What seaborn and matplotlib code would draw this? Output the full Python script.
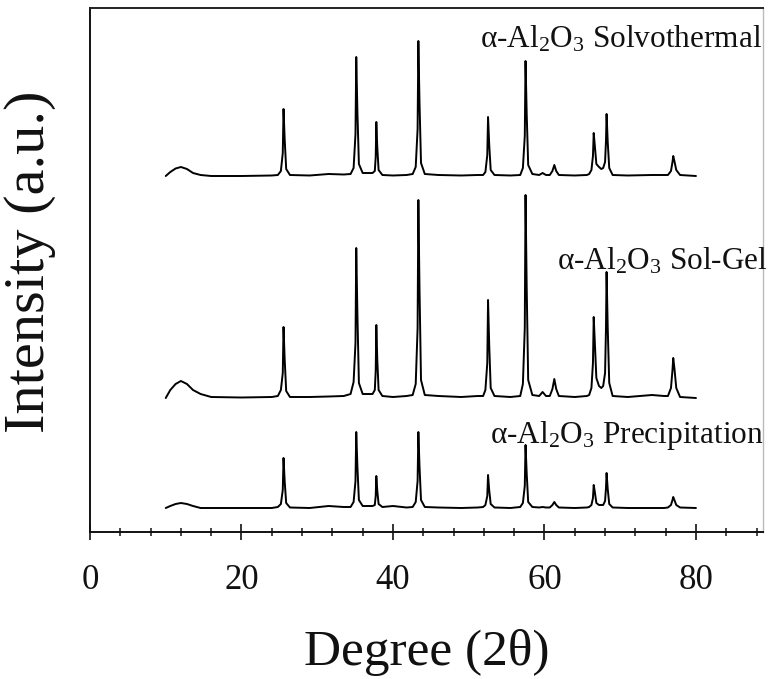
"""XRD patterns of alpha-Al2O3 powders made by three routes."""

import matplotlib

matplotlib.use("Agg")
import matplotlib.pyplot as plt
from matplotlib.ticker import MultipleLocator
import pandas as pd
import seaborn as sns


# 2-theta sampling points (degrees)
two_theta = [
    10.0, 10.6, 11.3, 12.0, 12.8, 13.6, 14.6, 16.0, 20.0, 24.0,
    24.8, 25.2, 25.45, 25.55, 25.7, 25.9, 26.4,
    29.0, 31.5, 33.5,
    34.4, 34.8, 35.05, 35.15, 35.3, 35.5, 36.0,
    36.8,
    37.3, 37.6, 37.72, 37.8, 37.92, 38.1, 38.6,
    40.0, 41.8,
    42.6, 43.0, 43.25, 43.35, 43.5, 43.7, 44.2,
    46.0, 49.0, 51.2,
    51.9, 52.2, 52.45, 52.55, 52.7, 52.9, 53.4,
    55.5,
    56.8, 57.15, 57.4, 57.5, 57.65, 57.85, 58.4,
    59.3, 59.75, 60.2,
    60.7, 61.05, 61.3, 61.55, 61.9,
    64.0, 65.6,
    65.9, 66.2, 66.4, 66.5, 66.65, 66.85, 67.2,
    67.5,
    67.75, 68.0, 68.12, 68.2, 68.35, 68.55, 69.0,
    71.0, 74.2, 75.8,
    76.3, 76.7, 76.9, 77.0, 77.15, 77.4, 77.9,
    80.0,
]

# intensities above each pattern's own baseline (a.u.)
solvothermal = [
    0, 4, 7.5, 9, 7, 3, 1, 0, 0, 0.5,
    1, 5, 23, 67, 37, 7, 1,
    0.5, 2, 1.5,
    2, 8, 42, 119, 65, 12, 3,
    3,
    3, 5, 19, 54, 30, 6, 1,
    0.5, 1,
    2, 9, 47, 135, 74, 13, 2,
    1, 0.5, 1,
    1, 4, 21, 59, 32, 6, 1,
    0.5,
    1, 8, 40, 115, 63, 11, 2,
    1, 3, 1,
    1, 5, 11, 5, 1,
    0.5, 1,
    2, 6, 20, 43, 30, 12, 9,
    7,
    8, 14, 35, 62, 34, 8, 1,
    0.5, 1, 1,
    1, 5, 14, 20, 15, 6, 1,
    0,
]

sol_gel = [
    0, 8, 14, 17, 14, 8, 4, 1, 0.5, 1,
    2, 8, 25, 71, 39, 7, 1,
    1, 1.5, 2,
    4, 16, 55, 150, 85, 15, 4,
    4,
    4, 8, 27, 73, 40, 8, 2,
    1, 2,
    3, 14, 70, 198, 110, 18, 3,
    2, 1, 2,
    2, 8, 35, 98, 54, 10, 2,
    1,
    2, 14, 70, 203, 112, 18, 3,
    2, 6, 2,
    2, 9, 19, 9, 2,
    1, 2,
    3, 10, 35, 81, 55, 20, 12,
    10,
    12, 25, 70, 126, 70, 15, 2,
    1, 3, 2,
    2, 10, 28, 40, 30, 10, 1,
    0,
]

precipitation = [
    0, 2, 4, 5, 4, 2, 0, 0, 0, 0,
    1, 4, 18, 50, 27, 5, 0.5,
    0, 2, 1,
    1, 6, 27, 76, 42, 8, 2,
    2,
    2, 3, 12, 32, 18, 4, 1,
    2, 0.5,
    1, 6, 27, 76, 42, 8, 1,
    0.5, 0, 0.5,
    1, 3, 12, 33, 18, 4, 0.5,
    0,
    1, 5, 22, 63, 35, 6, 1,
    0.5, 1, 0.5,
    0.5, 3, 6, 3, 0.5,
    0, 0.5,
    1, 3, 10, 23, 16, 5, 3,
    3,
    3, 7, 20, 35, 19, 4, 0.5,
    0, 0, 0,
    0.5, 3, 8, 11, 8, 3, 0.5,
    0,
]

sample_labels = [
    r"$\alpha$-Al$_2$O$_3$ Solvothermal",
    r"$\alpha$-Al$_2$O$_3$ Sol-Gel",
    r"$\alpha$-Al$_2$O$_3$ Precipitation",
]
x_ticks = [0, 20, 40, 60, 80]

# layout: vertical stacking offset of each pattern and label anchor (data units)
OFFSETS = [356, 134, 24]
LABEL_POS = [(51.5, 485), (61.65, 262), (52.8, 89)]


def main() -> None:
    sns.set_style("white")
    plt.rcParams["font.family"] = ["Liberation Serif", "DejaVu Serif"]
    plt.rcParams["mathtext.fontset"] = "custom"
    plt.rcParams["mathtext.rm"] = "Liberation Serif"
    plt.rcParams["mathtext.it"] = "Liberation Serif:italic"
    plt.rcParams["mathtext.default"] = "regular"

    series = [solvothermal, sol_gel, precipitation]
    for values in series:
        assert len(values) == len(two_theta)

    fig = plt.figure(figsize=(7.68, 6.79), dpi=100)
    ax = fig.add_axes([90 / 768, 1 - 532 / 679, 673 / 768, 524 / 679])

    for values, offset in zip(series, OFFSETS):
        df = pd.DataFrame({"two_theta": two_theta, "intensity": values})
        df["intensity"] = df["intensity"] + offset
        sns.lineplot(
            data=df, x="two_theta", y="intensity", ax=ax,
            color="black", linewidth=1.4, estimator=None, sort=False,
        )

    for label, (lx, ly) in zip(sample_labels, LABEL_POS):
        ax.text(lx, ly, label, fontsize=22.5, ha="left", va="baseline", color="#111111")

    ax.set_xlim(0, 88.85)
    ax.set_ylim(0, 524)
    ax.set_xticks(x_ticks)
    ax.xaxis.set_minor_locator(MultipleLocator(4))
    ax.set_yticks([])
    ax.tick_params(axis="x", which="major", bottom=True, direction="inout",
                   length=12, width=1.2, labelsize=25, pad=17, colors="#111111")
    ax.tick_params(axis="x", which="minor", bottom=True, direction="inout",
                   length=6, width=1.1, colors="#111111")

    for side in ["left", "bottom"]:
        ax.spines[side].set_color("#111111")
        ax.spines[side].set_linewidth(1.4)
    ax.spines["top"].set_color("#222222")
    ax.spines["top"].set_linewidth(1.4)
    ax.spines["right"].set_color("#bbbbbb")
    ax.spines["right"].set_linewidth(1.0)

    ax.set_xlabel("Degree (2\u03b8)", fontsize=37, color="#111111")
    ax.xaxis.set_label_coords(0.5, -0.2538)
    ax.xaxis.label.set_va("baseline")
    ax.set_ylabel("Intensity (a.u.)", fontsize=42, color="#111111")
    ax.yaxis.set_label_coords(-0.0892, 0.515)
    ax.yaxis.label.set_va("center")

    fig.savefig("out.png", dpi=100)
    plt.close(fig)


if __name__ == "__main__":
    main()
